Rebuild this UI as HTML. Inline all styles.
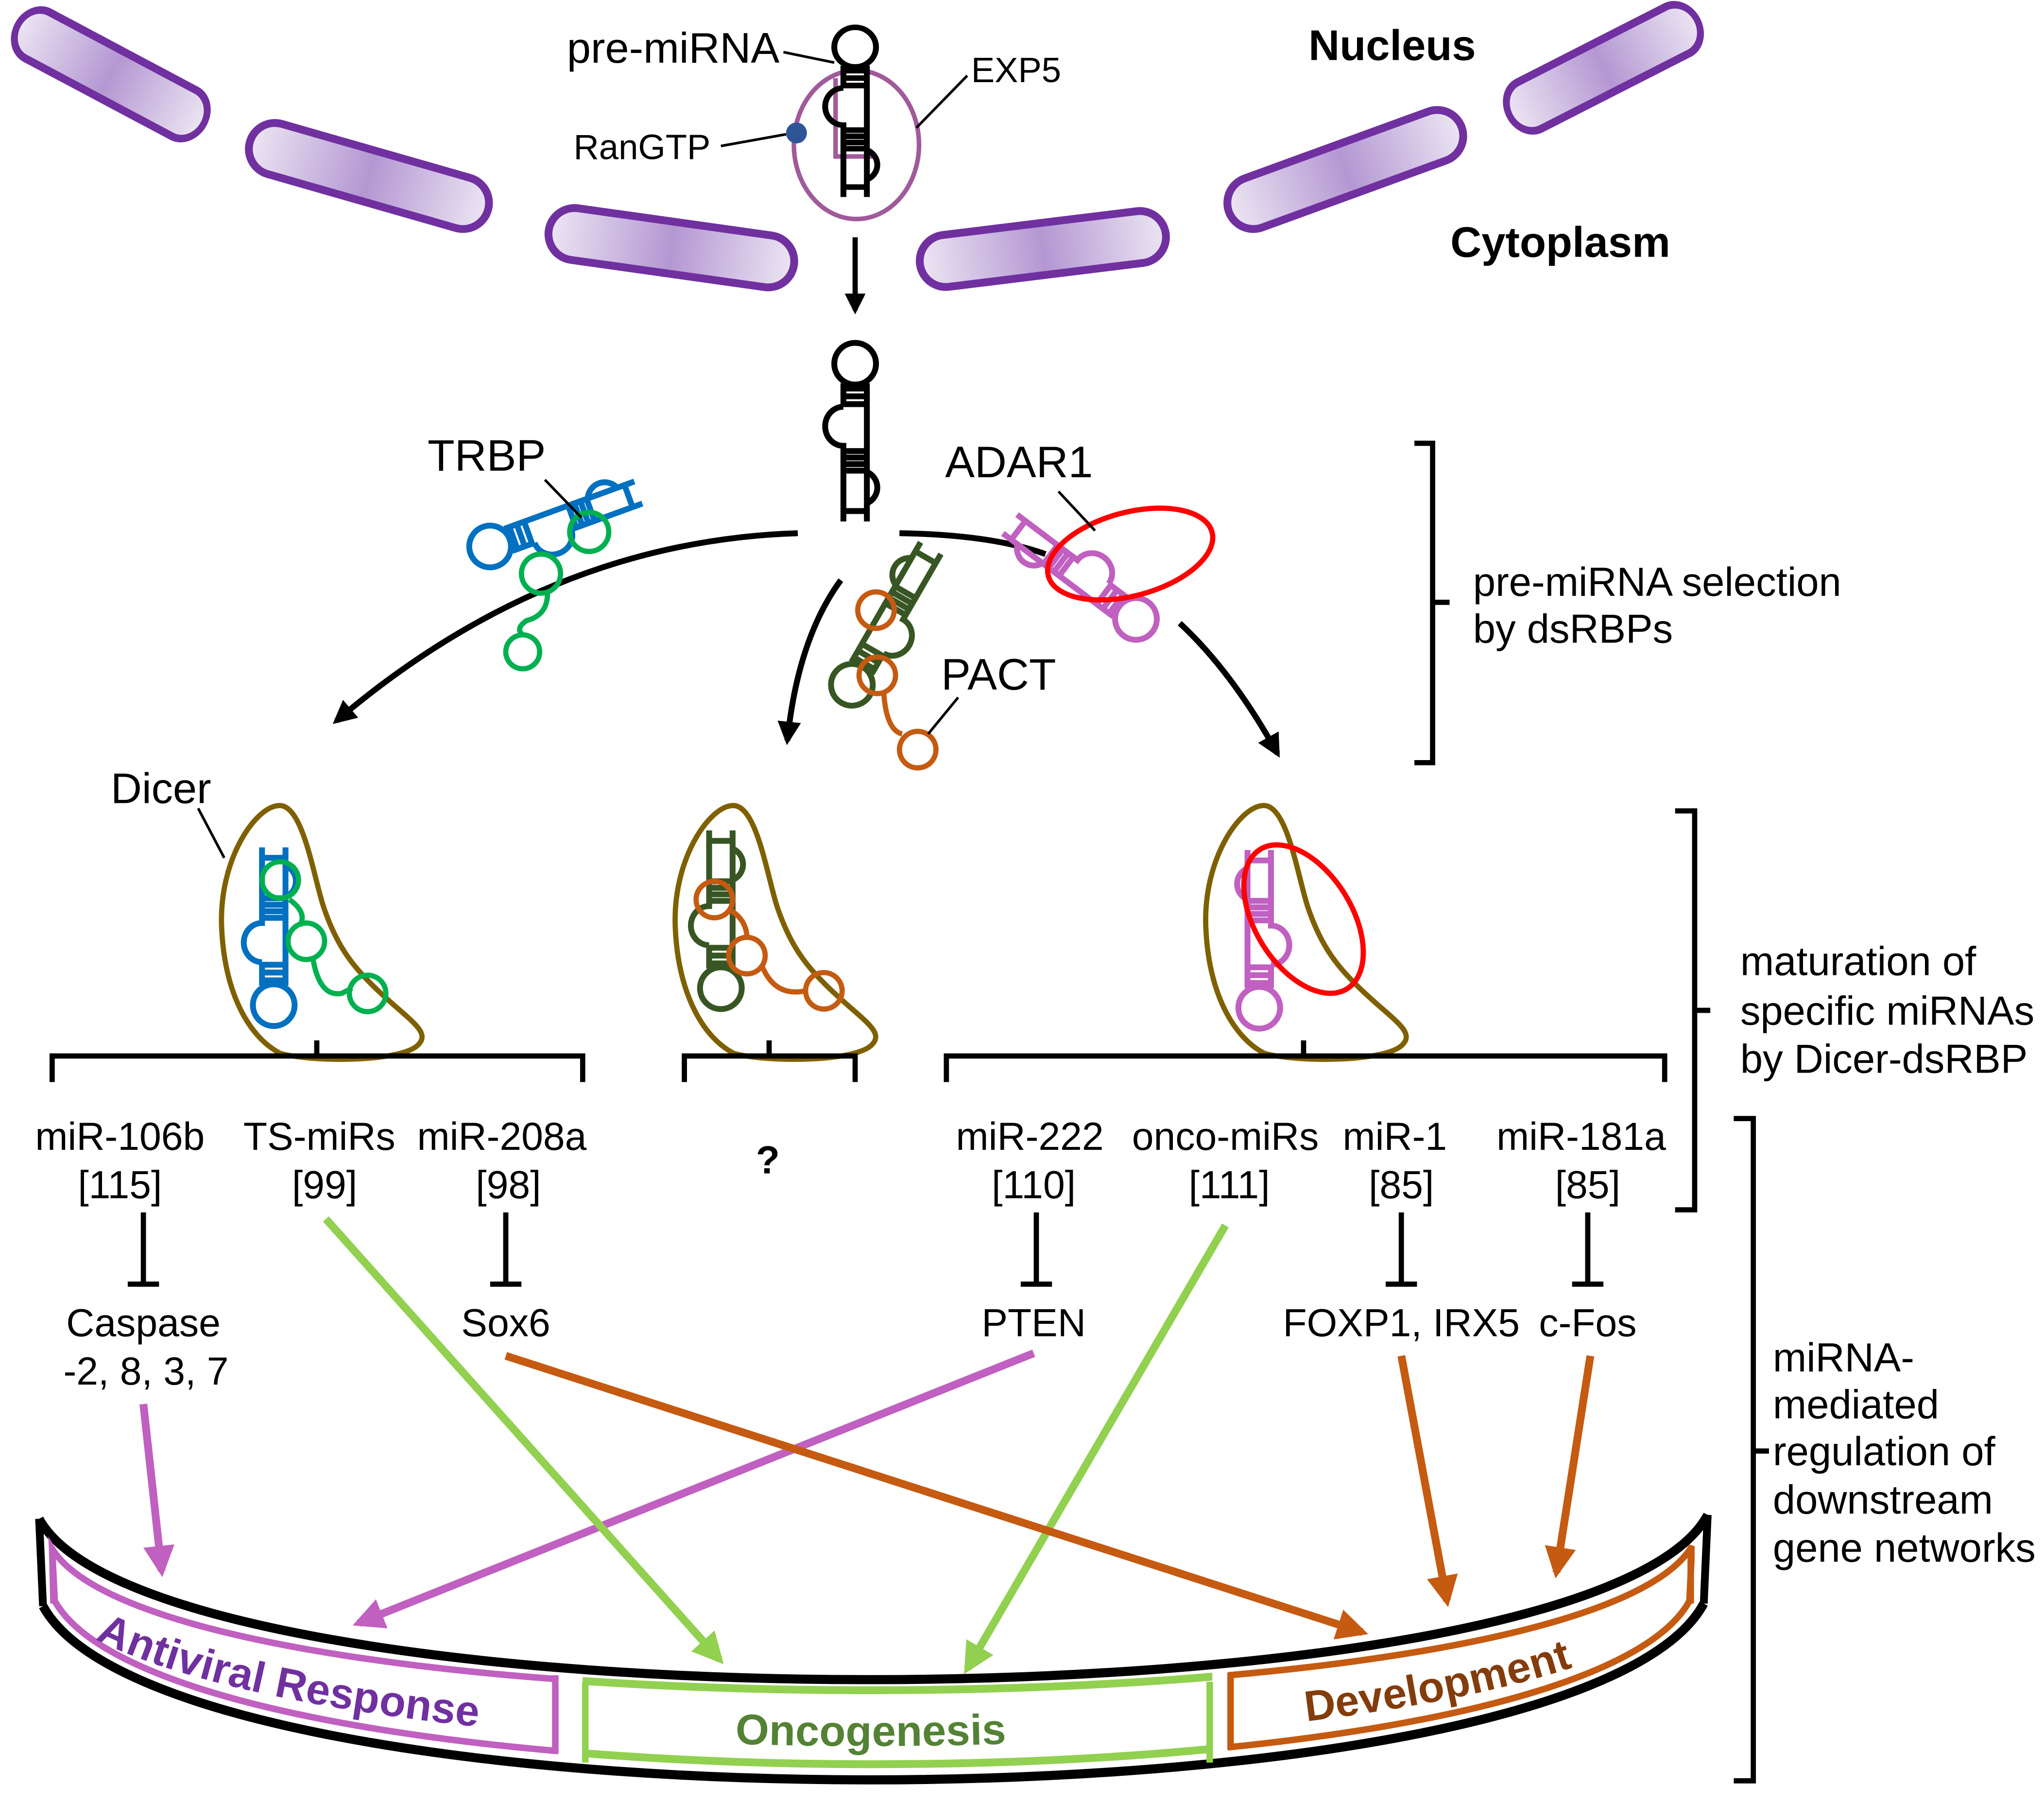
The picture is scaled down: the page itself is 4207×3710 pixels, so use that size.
<!DOCTYPE html>
<html><head><meta charset="utf-8"><style>
html,body{margin:0;padding:0;background:#fff;}
svg{display:block;}
text{font-family:"Liberation Sans",sans-serif;}
</style></head><body>
<svg width="4207" height="3710" viewBox="0 0 1568 1383" preserveAspectRatio="none" xmlns="http://www.w3.org/2000/svg">
<defs>
<linearGradient id="tg" x1="0" x2="1" y1="0" y2="0">
<stop offset="0" stop-color="#ece6f3"/><stop offset="0.5" stop-color="#b497d2"/><stop offset="1" stop-color="#ece6f3"/>
</linearGradient>
<marker id="ak" viewBox="0 0 10 10" refX="8" refY="5" markerWidth="4" markerHeight="4" orient="auto"><path d="M0,0 L10,5 L0,10 z" fill="#000"/></marker>
<marker id="ap" viewBox="0 0 10 10" refX="8" refY="5" markerWidth="4" markerHeight="4" orient="auto"><path d="M0,0 L10,5 L0,10 z" fill="#c060c0"/></marker>
<marker id="ag" viewBox="0 0 10 10" refX="8" refY="5" markerWidth="4" markerHeight="4" orient="auto"><path d="M0,0 L10,5 L0,10 z" fill="#92d050"/></marker>
<marker id="ab" viewBox="0 0 10 10" refX="8" refY="5" markerWidth="4" markerHeight="4" orient="auto"><path d="M0,0 L10,5 L0,10 z" fill="#c55a11"/></marker>
<g id="tube"><rect x="-95" y="-20" width="190" height="40" rx="20" fill="url(#tg)" stroke="#7030a0" stroke-width="6"/></g>
<g id="hp" fill="none" stroke-width="4.5">
<circle cx="0" cy="17" r="16"/>
<path d="M-9,32 V50 M9,32 V138 M-9,36 H9 M-9,42 H9 M-9,48 H9"/>
<path d="M-9,50 A14,15 0 0 0 -9,80 V138"/>
<path d="M-9,84 H9 M-9,89 H9 M-9,94 H9 M-9,99 H9"/>
<path d="M9,100 A13,13 0 0 1 9,124"/>
<path d="M-9,130 H9"/>
</g>
<g id="dicer"><path d="M213,618 C232,615 240,670 248,695 C258,725 270,740 285,755 C310,780 330,790 322,800 C312,815 240,815 215,808 C190,795 172,760 170,711 C168,660 195,620 213,618 Z" fill="none" stroke="#7f6000" stroke-width="4"/></g>
<clipPath id="c1"><rect x="36" y="1100" width="392" height="300"/></clipPath>
<clipPath id="c2"><rect x="447" y="1100" width="483" height="300"/></clipPath>
<clipPath id="c3"><rect x="942" y="1100" width="358" height="300"/></clipPath>
<path id="band" d="M40,1188 C130,1333 1210,1333 1298,1186 L1296,1228 C1205,1395 135,1395 42,1228 Z"/>
<path id="tp" d="M30,1208 C128,1368 1212,1368 1305,1206"/>
</defs>

<!-- nuclear pores -->
<use href="#tube" transform="translate(85,57) rotate(28) scale(0.85,1)"/>
<use href="#tube" transform="translate(283,135) rotate(16) scale(1,1)"/>
<use href="#tube" transform="translate(515,190) rotate(8)"/>
<use href="#tube" transform="translate(800,191) rotate(-7)"/>
<use href="#tube" transform="translate(1032,130) rotate(-20)"/>
<use href="#tube" transform="translate(1230,52) rotate(-27) scale(0.85,1)"/>

<text x="1068" y="46" font-size="33" font-weight="bold" text-anchor="middle">Nucleus</text>
<text x="1197" y="197" font-size="33" font-weight="bold" text-anchor="middle">Cytoplasm</text>

<!-- export complex -->
<ellipse cx="657" cy="111" rx="48" ry="57" fill="none" stroke="#a05a9a" stroke-width="3.5"/>
<path d="M641,60 V120 H670" fill="none" stroke="#a05a9a" stroke-width="3.5"/>
<use href="#hp" transform="translate(656,20) scale(1,0.95)" stroke="#000"/>
<circle cx="611" cy="102" r="8" fill="#2f5597"/>
<line x1="553" y1="112" x2="603" y2="103" stroke="#000" stroke-width="2"/>
<text x="598" y="48" font-size="33" text-anchor="end">pre-miRNA</text>
<line x1="601" y1="40" x2="640" y2="48" stroke="#000" stroke-width="2"/>
<text x="745" y="63" font-size="27">EXP5</text>
<line x1="742" y1="58" x2="703" y2="98" stroke="#000" stroke-width="2"/>
<text x="545" y="122" font-size="27" text-anchor="end">RanGTP</text>

<line x1="656" y1="182" x2="656" y2="238" stroke="#000" stroke-width="4" marker-end="url(#ak)"/>
<use href="#hp" transform="translate(656,262)" stroke="#000"/>

<!-- curved arrows -->
<path d="M612,409 Q420,415 258,553" fill="none" stroke="#000" stroke-width="4.5" marker-end="url(#ak)"/>
<path d="M645,445 Q612,490 604,568" fill="none" stroke="#000" stroke-width="4.5" marker-end="url(#ak)"/>
<path d="M690,409 Q760,410 802,425 M905,478 Q945,515 980,578" fill="none" stroke="#000" stroke-width="4.5" marker-end="url(#ak)"/>

<!-- TRBP complex -->
<use href="#hp" transform="translate(360,425) rotate(-110)" stroke="#0070c0"/>
<g fill="none" stroke="#00b050" stroke-width="4">
<circle cx="452" cy="408" r="15"/><circle cx="415" cy="440" r="15"/><circle cx="401" cy="500" r="13"/>
<path d="M420,455 Q420,472 404,476 Q395,482 401,487"/>
</g>
<text x="328" y="361" font-size="34">TRBP</text>
<line x1="418" y1="368" x2="446" y2="397" stroke="#000" stroke-width="2"/>

<!-- PACT complex -->
<use href="#hp" transform="translate(645,540) rotate(-150)" stroke="#375623"/>
<g fill="none" stroke="#c55a11" stroke-width="4">
<circle cx="672" cy="468" r="14"/><circle cx="673" cy="518" r="14"/><circle cx="704" cy="575" r="14"/>
<path d="M678,532 Q680,560 692,563"/>
</g>
<text x="722" y="529" font-size="34">PACT</text>
<line x1="735" y1="535" x2="712" y2="563" stroke="#000" stroke-width="2"/>

<!-- ADAR1 complex -->
<use href="#hp" transform="translate(885,485) rotate(127)" stroke="#c060c0"/>
<ellipse cx="867" cy="425" rx="65" ry="32" transform="rotate(-15 867 425)" fill="none" stroke="#ff0000" stroke-width="4"/>
<text x="725" y="366" font-size="34">ADAR1</text>
<line x1="812" y1="377" x2="840" y2="407" stroke="#000" stroke-width="2"/>

<!-- bracket 1 -->
<path d="M1085,340 H1099 V585 H1085 M1099,462 H1112" fill="none" stroke="#000" stroke-width="4"/>
<text x="1130" y="457" font-size="31">pre-miRNA selection</text>
<text x="1130" y="493" font-size="31">by dsRBPs</text>

<!-- Dicers -->
<use href="#dicer"/>
<use href="#dicer" transform="translate(348,0)"/>
<use href="#dicer" transform="translate(755,0)"/>
<text x="85" y="616" font-size="33">Dicer</text>
<line x1="152" y1="620" x2="172" y2="658" stroke="#000" stroke-width="2"/>
<!-- left contents -->
<use href="#hp" transform="translate(210,788) scale(1,-1)" stroke="#0070c0"/>
<g fill="none" stroke="#00b050" stroke-width="4">
<circle cx="215" cy="675" r="14"/><circle cx="235" cy="722" r="14"/><circle cx="282" cy="762" r="14"/>
<path d="M222,690 Q236,700 230,710 M240,735 Q245,765 262,762 L270,758"/>
</g>
<!-- middle contents -->
<use href="#hp" transform="translate(553,775) scale(1,-1)" stroke="#375623"/>
<g fill="none" stroke="#c55a11" stroke-width="4">
<circle cx="548" cy="690" r="14"/><circle cx="573" cy="733" r="14"/><circle cx="632" cy="760" r="14"/>
<path d="M560,698 Q572,705 573,718 M585,742 Q595,765 618,760"/>
</g>
<!-- right contents -->
<use href="#hp" transform="translate(966,790) scale(-1,-1)" stroke="#c060c0"/>
<ellipse cx="1000" cy="705" rx="37" ry="63" transform="rotate(-32 1000 705)" fill="none" stroke="#ff0000" stroke-width="4"/>

<!-- bracket 2 -->
<path d="M1285,622 H1300 V928 H1285 M1300,775 H1312" fill="none" stroke="#000" stroke-width="4"/>
<text x="1335" y="748" font-size="31">maturation of</text>
<text x="1335" y="786" font-size="31">specific miRNAs</text>
<text x="1335" y="823" font-size="31">by Dicer-dsRBP</text>

<!-- horizontal brackets -->
<path d="M40,830 V810 H447 V830 M243,810 V798" fill="none" stroke="#000" stroke-width="4"/>
<path d="M525,830 V810 H656 V830 M590,810 V798" fill="none" stroke="#000" stroke-width="4"/>
<path d="M726,830 V810 H1277 V830 M1000,810 V798" fill="none" stroke="#000" stroke-width="4"/>

<g font-size="30" text-anchor="middle">
<text x="92" y="882">miR-106b</text><text x="92" y="919">[115]</text>
<text x="245" y="882">TS-miRs</text><text x="249" y="919">[99]</text>
<text x="385" y="882">miR-208a</text><text x="390" y="919">[98]</text>
<text x="589" y="900" font-weight="bold">?</text>
<text x="790" y="882">miR-222</text><text x="793" y="919">[110]</text>
<text x="940" y="882">onco-miRs</text><text x="943" y="919">[111]</text>
<text x="1070" y="882">miR-1</text><text x="1075" y="919">[85]</text>
<text x="1213" y="882">miR-181a</text><text x="1218" y="919">[85]</text>
<text x="110" y="1025">Caspase</text><text x="112" y="1062">-2, 8, 3, 7</text>
<text x="388" y="1025">Sox6</text>
<text x="793" y="1025">PTEN</text>
<text x="1075" y="1025">FOXP1, IRX5</text>
<text x="1218" y="1025">c-Fos</text>
</g>
<g stroke="#000" stroke-width="4" fill="none">
<path d="M110,930 V985 M98,985 H122"/>
<path d="M388,930 V985 M376,985 H400"/>
<path d="M795,930 V985 M783,985 H807"/>
<path d="M1075,930 V985 M1063,985 H1087"/>
<path d="M1218,930 V985 M1206,985 H1230"/>
</g>

<!-- bracket 3 -->
<path d="M1330,858 H1345 V1366 H1330 M1345,1113 H1357" fill="none" stroke="#000" stroke-width="4"/>
<g font-size="31">
<text x="1360" y="1052">miRNA-</text><text x="1360" y="1088">mediated</text>
<text x="1360" y="1124">regulation of</text><text x="1360" y="1161">downstream</text>
<text x="1360" y="1198">gene networks</text>
</g>

<!-- arrows -->
<line x1="110" y1="1077" x2="124" y2="1205" stroke="#c060c0" stroke-width="6" marker-end="url(#ap)"/>
<line x1="793" y1="1038" x2="275" y2="1245" stroke="#c060c0" stroke-width="6" marker-end="url(#ap)"/>
<line x1="250" y1="935" x2="552" y2="1273" stroke="#92d050" stroke-width="6" marker-end="url(#ag)"/>
<line x1="940" y1="940" x2="742" y2="1280" stroke="#92d050" stroke-width="6" marker-end="url(#ag)"/>
<line x1="388" y1="1040" x2="1045" y2="1252" stroke="#c55a11" stroke-width="6" marker-end="url(#ab)"/>
<line x1="1075" y1="1040" x2="1110" y2="1228" stroke="#c55a11" stroke-width="6" marker-end="url(#ab)"/>
<line x1="1220" y1="1040" x2="1194" y2="1206" stroke="#c55a11" stroke-width="6" marker-end="url(#ab)"/>

<!-- bowl -->
<path d="M30,1165 C120,1330 1220,1330 1310,1162" fill="none" stroke="#000" stroke-width="7"/>
<path d="M33,1232 C130,1410 1210,1410 1307,1230" fill="none" stroke="#000" stroke-width="7"/>
<path d="M30,1165 L33,1232 M1310,1162 L1307,1230" fill="none" stroke="#000" stroke-width="6"/>

<g fill="none" stroke-width="5">
<use href="#band" stroke="#c060c0" clip-path="url(#c1)"/>
<line x1="426" y1="1285" x2="426" y2="1345" stroke="#c060c0"/>
<line x1="40" y1="1188" x2="41" y2="1230" stroke="#c060c0"/>
<use href="#band" stroke="#92d050" clip-path="url(#c2)" stroke-width="6"/>
<line x1="449" y1="1290" x2="449" y2="1352" stroke="#92d050"/>
<line x1="928" y1="1290" x2="928" y2="1352" stroke="#92d050"/>
<use href="#band" stroke="#c55a11" clip-path="url(#c3)"/>
<line x1="944" y1="1283" x2="944" y2="1342" stroke="#c55a11"/>
<line x1="1297" y1="1186" x2="1297" y2="1230" stroke="#c55a11"/>
</g>
<g font-size="33" font-weight="bold" dominant-baseline="central" text-anchor="middle">
<text fill="#7030a0"><textPath href="#tp" startOffset="16%">Antiviral Response</textPath></text>
<text fill="#548235"><textPath href="#tp" startOffset="50%">Oncogenesis</textPath></text>
<text fill="#843c0c"><textPath href="#tp" startOffset="83%">Development</textPath></text>
</g>
</svg>
</body></html>
